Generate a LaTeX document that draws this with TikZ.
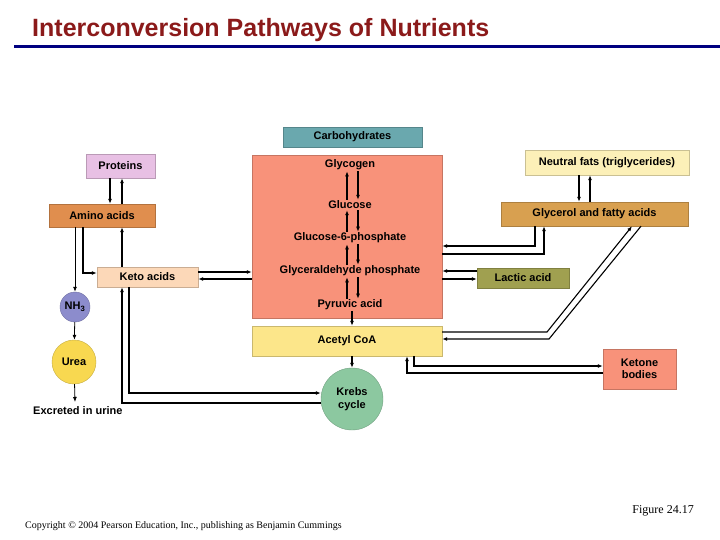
\documentclass[tikz,border=0pt]{standalone}
\usepackage{fontspec}
\setmainfont{Liberation Sans}
\newfontfamily\serifx{Liberation Serif}
\usetikzlibrary{arrows.meta}
\definecolor{teal1}{HTML}{6AA8AE}
\definecolor{prot}{HTML}{E8C0E4}
\definecolor{amino}{HTML}{E08E4E}
\definecolor{salmon}{HTML}{F8927A}
\definecolor{acetyl}{HTML}{FCE68A}
\definecolor{keto}{HTML}{FCD8B8}
\definecolor{nh}{HTML}{8C8CCC}
\definecolor{urea}{HTML}{F8D850}
\definecolor{krebs}{HTML}{8CC8A0}
\definecolor{nfat}{HTML}{FCF0B8}
\definecolor{glyc}{HTML}{D8A050}
\definecolor{lactic}{HTML}{A0A050}
\definecolor{titlec}{HTML}{8B1A1A}
\begin{document}
\begin{tikzpicture}[x=1pt,y=-1pt,
  box/.style={draw=#1!80!black,line width=0.4pt,fill=#1,inner sep=0pt,font=\bfseries\fontsize{11}{12.5}\selectfont,align=center},
  circ/.style={circle,draw=#1!80!black,fill=#1,inner sep=0pt,font=\bfseries\fontsize{11}{12.5}\selectfont,align=center},
  lbl/.style={font=\bfseries\fontsize{11}{12.5}\selectfont,inner sep=1pt},
  ar/.style={line width=1.1pt,-{Latex[length=5pt,width=4pt]}}]
\useasboundingbox (0,0) rectangle (720,540);
\fill[white] (0,0) rectangle (720,540);
\node[anchor=base west,text=titlec,font=\bfseries\fontsize{25}{28}\selectfont,inner sep=0] (title) at (32,37) {Interconversion Pathways of Nutrients};
\draw[line width=3pt,color={rgb,255:red,0;green,0;blue,128}] (14,47) -- (720,47);

\node[box=teal1,minimum width=139pt,minimum height=20pt] (carb) at (352.5,137) {Carbohydrates};
\node[box=salmon,minimum width=190pt,minimum height=163pt] (big) at (347,236.5) {};
\node[lbl] (gly) at (350,165) {Glycogen};
\node[lbl] (glu) at (350,205) {Glucose};
\node[lbl] (g6p) at (350,238) {Glucose-6-phosphate};
\node[lbl] (gap) at (350,271) {Glyceraldehyde phosphate};
\node[lbl] (pyr) at (350,305) {Pyruvic acid};
\node[box=acetyl,minimum width=190pt,minimum height=30pt] (acoa) at (347,341) {Acetyl CoA};
\node[box=prot,minimum width=69pt,minimum height=24pt] (prot) at (120.5,166) {Proteins};
\node[box=amino,minimum width=106pt,minimum height=23pt] (amino) at (102,215.5) {Amino acids};
\node[box=keto,minimum width=101pt,minimum height=20pt] (keto) at (147.5,277) {Keto acids};
\node[circ=nh,minimum size=30pt] (nh3) at (75,307) {NH\textsubscript{3}};
\node[circ=urea,minimum size=44pt] (urea) at (74,362) {Urea};
\node[lbl,anchor=west] (exc) at (32,411) {Excreted in urine};
\coordinate (excT) at (75,402);
\node[circ=krebs,minimum size=62pt] (krebs) at (352,399) {Krebs\\cycle};
\node[box=nfat,minimum width=164pt,minimum height=25pt] (nfat) at (607,162.5) {Neutral fats (triglycerides)};
\node[box=glyc,minimum width=187pt,minimum height=24pt] (glyc) at (594.5,214) {Glycerol and fatty acids};
\node[box=lactic,minimum width=92pt,minimum height=20pt] (lac) at (523,278) {Lactic acid};
\node[box=salmon,minimum width=73pt,minimum height=40pt] (ket) at (639.5,369) {Ketone\\bodies};

% carbohydrate chain
\foreach \a/\b in {gly/glu,glu/g6p,g6p/gap,gap/pyr}{
  \draw[ar] (\a.south -| 358,0) -- (\b.north -| 358,0);
  \draw[ar] (\b.north -| 347,0) -- (\a.south -| 347,0);
}
\draw[ar] (pyr.south -| 352,0) -- (acoa.north -| 352,0);
\draw[ar] (acoa.south -| 352,0) -- (krebs.north);
% proteins
\draw[ar] (prot.south -| 110,0) -- (amino.north -| 110,0);
\draw[ar] (amino.north -| 122,0) -- (prot.south -| 122,0);
\draw[ar,line width=0.8pt] (amino.south -| nh3) -- (nh3);
\draw[ar,line width=0.8pt] (nh3) -- (urea);
\draw[ar,line width=0.8pt] (urea) -- (excT);
\draw[ar] (amino.south -| 83,0) |- (keto.west |- 0,273);
\draw[ar] (keto.north -| 122,0) -- (amino.south -| 122,0);
\draw[ar] (keto.south -| 129,0) |- (krebs.west |- 0,393);
\draw[ar] (krebs.west |- 0,403) -| (keto.south -| 122,0);
\draw[ar] (keto.east |- 0,272) -- (big.west |- 0,272);
\draw[ar] (big.west |- 0,279) -- (keto.east |- 0,279);
% right
\draw[ar] (nfat.south -| 579,0) -- (glyc.north -| 579,0);
\draw[ar] (glyc.north -| 590,0) -- (nfat.south -| 590,0);
\draw[ar] (glyc.south -| 535,0) |- (big.east |- 0,246);
\draw[ar] (big.east |- 0,254) -| (glyc.south -| 544,0);
\draw[ar] (lac.west |- 0,271) -- (big.east |- 0,271);
\draw[ar] (big.east |- 0,279) -- (lac.west |- 0,279);
\coordinate (d1) at (547,332); \coordinate (d2) at (549,339);
\draw[ar] (acoa.east |- d1) -- (d1) -- (glyc.south -| 632,0);
\draw[ar] (glyc.south -| 641,0) -- (d2) -- (acoa.east |- d2);
\draw[ar] (acoa.south -| 414,0) |- (ket.west |- 0,366);
\draw[ar] (ket.west |- 0,373) -| (acoa.south -| 407,0);

\node[anchor=base east,font=\serifx\fontsize{12}{14}\selectfont,inner sep=0] (fig) at (694,513) {Figure 24.17};
\node[anchor=base west,font=\serifx\fontsize{10}{12}\selectfont,inner sep=0] (copy) at (25,528) {Copyright © 2004 Pearson Education, Inc., publishing as Benjamin Cummings};
\end{tikzpicture}
\end{document}
